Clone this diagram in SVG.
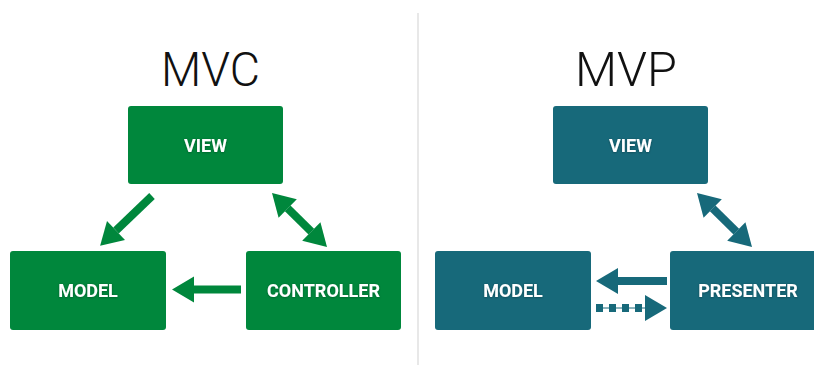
<svg xmlns="http://www.w3.org/2000/svg" width="814" height="365" viewBox="0 0 814 365">
<style>
.title{font-family:Roboto,"Liberation Sans",sans-serif;font-weight:300;font-size:49px;fill:#111;}
.lbl{font-family:Roboto,"Liberation Sans",sans-serif;font-weight:700;font-size:18px;fill:#fff;text-anchor:middle;filter:url(#sh);}
.g{fill:#00873C;}
.t{fill:#17697A;}
.ag{stroke:#00873C;stroke-width:8;fill:none;}
.at{stroke:#17697A;stroke-width:8;fill:none;}
</style>
<defs>
<filter id="sh" x="-10%" y="-30%" width="120%" height="160%">
<feDropShadow dx="0" dy="0.5" stdDeviation="1" flood-color="#000" flood-opacity="0.35"/>
</filter>
<marker id="hg" markerUnits="userSpaceOnUse" markerWidth="22" markerHeight="26" refX="0" refY="13" orient="auto-start-reverse" overflow="visible">
<path d="M0,0 L22,13 L0,26 z" fill="#00873C"/>
</marker>
<marker id="ht" markerUnits="userSpaceOnUse" markerWidth="22" markerHeight="26" refX="0" refY="13" orient="auto-start-reverse" overflow="visible">
<path d="M0,0 L22,13 L0,26 z" fill="#17697A"/>
</marker>
</defs>
<rect width="814" height="365" fill="#fff"/>
<line x1="418" y1="13" x2="418" y2="365" stroke="#e8e8e8" stroke-width="2"/>
<g id="titles">
<text class="title" x="210.5" y="86" text-anchor="middle" textLength="99" lengthAdjust="spacingAndGlyphs">MVC</text>
<text class="title" x="626" y="86" text-anchor="middle" textLength="102" lengthAdjust="spacingAndGlyphs">MVP</text>
</g>
<g id="mvc-view"><rect class="g" x="128" y="106" width="155" height="78" rx="3"/><text class="lbl" x="205.5" y="151.5">VIEW</text></g>
<g id="mvc-model"><rect class="g" x="10" y="251" width="156" height="79" rx="3"/><text class="lbl" x="88" y="297">MODEL</text></g>
<g id="mvc-controller"><rect class="g" x="246" y="251" width="155" height="79" rx="3"/><text class="lbl" x="323.5" y="297">CONTROLLER</text></g>
<g id="mvp-view"><rect class="t" x="553" y="106" width="155" height="78" rx="3"/><text class="lbl" x="630.5" y="151.5">VIEW</text></g>
<g id="mvp-model"><rect class="t" x="435" y="251" width="156" height="79" rx="3"/><text class="lbl" x="513" y="297">MODEL</text></g>
<g id="mvp-presenter"><rect class="t" x="670" y="251" width="156" height="79" rx="3"/><text class="lbl" x="748" y="297">PRESENTER</text></g>
<g id="connectors">
<line class="ag" x1="152" y1="196" x2="116" y2="230.5" marker-end="url(#hg)"/>
<line class="ag" x1="287.7" y1="208.4" x2="311.3" y2="231.6" marker-start="url(#hg)" marker-end="url(#hg)"/>
<line class="ag" x1="241" y1="289.5" x2="194" y2="289.5" marker-end="url(#hg)"/>
<line class="at" x1="712.7" y1="208.4" x2="736.3" y2="231.6" marker-start="url(#ht)" marker-end="url(#ht)"/>
<line class="at" x1="667" y1="281" x2="618" y2="281" marker-end="url(#ht)"/>
<line x1="596" y1="308" x2="646" y2="308" stroke="#17697A" stroke-width="1"/>
<line class="at" x1="596" y1="308" x2="645" y2="308" stroke-dasharray="7 6" marker-end="url(#ht)"/>
</g>
</svg>
